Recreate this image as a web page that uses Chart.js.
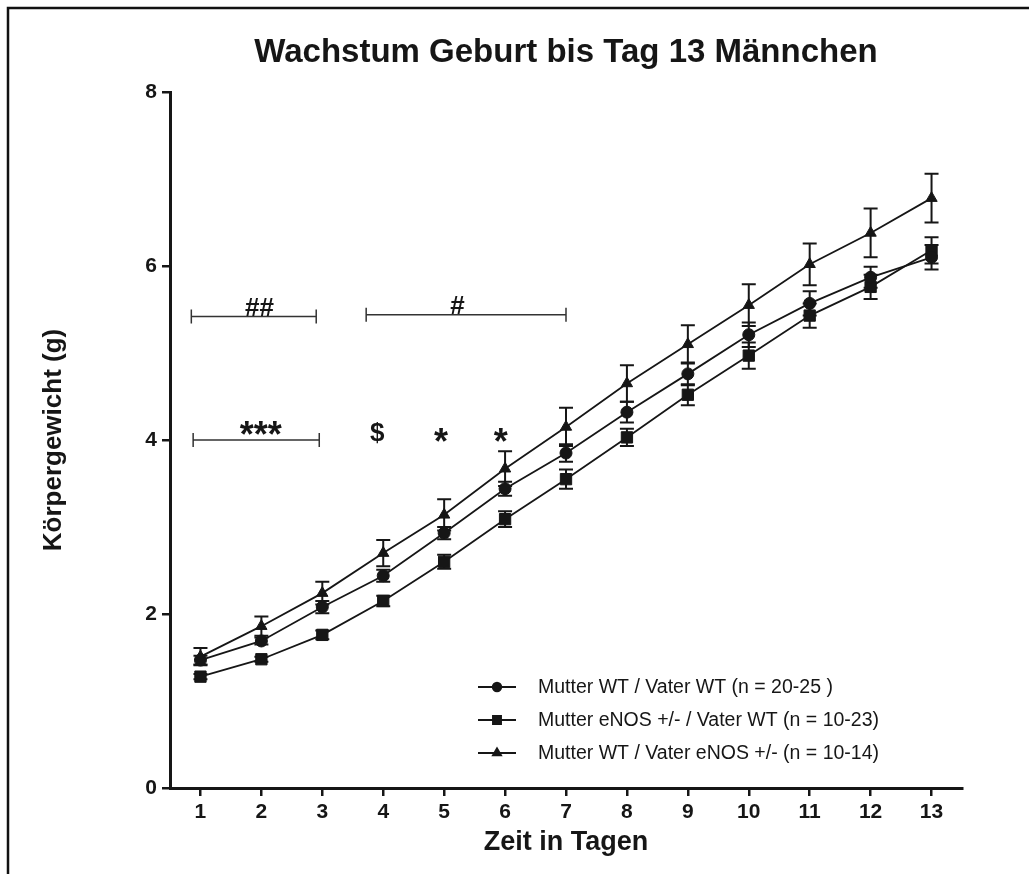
<!DOCTYPE html>
<html>
<head>
<meta charset="utf-8">
<script src="https://cdn.jsdelivr.net/npm/chart.js@4.4.1/dist/chart.umd.min.js"></script>
<style>
  html, body { margin: 0; padding: 0; background: #fff; }
  #wrap { width: 1029px; height: 874px; }
</style>
</head>
<body>
<div id="wrap"><canvas id="wachstum__grafico" width="1029" height="874"></canvas></div>
<script>
// Tage
var tage = [1, 2, 3, 4, 5, 6, 7, 8, 9, 10, 11, 12, 13];
var yTicks = [0, 2, 4, 6, 8];

// Mittelwerte + SEM (g)
var wtWt = [1.47, 1.69, 2.08, 2.44, 2.93, 3.44, 3.85, 4.32, 4.76, 5.21, 5.57, 5.87, 6.10];
var wtWtSem = [0.05, 0.04, 0.07, 0.07, 0.07, 0.08, 0.10, 0.12, 0.13, 0.14, 0.14, 0.12, 0.14];
var enosMutter = [1.28, 1.48, 1.76, 2.15, 2.60, 3.09, 3.55, 4.03, 4.52, 4.97, 5.43, 5.76, 6.18];
var enosMutterSem = [0.03, 0.03, 0.05, 0.06, 0.08, 0.09, 0.11, 0.10, 0.12, 0.15, 0.14, 0.14, 0.15];
var enosVater = [1.51, 1.86, 2.24, 2.70, 3.14, 3.67, 4.15, 4.65, 5.10, 5.55, 6.02, 6.38, 6.78];
var enosVaterSem = [0.10, 0.11, 0.13, 0.15, 0.18, 0.20, 0.22, 0.21, 0.22, 0.24, 0.24, 0.28, 0.28];

var serienNamen = [
    'Mutter WT / Vater WT (n = 20-25 )',
    'Mutter eNOS +/- / Vater WT (n = 10-23)',
    'Mutter WT / Vater eNOS +/- (n = 10-14)'
];
var titel = 'Wachstum Geburt bis Tag 13 Männchen';

// Signifikanz-Klammern und Zeichen (Datenkoordinaten)
var klammerVon = [0.85, 3.72, 0.88];
var klammerBis = [2.90, 7.00, 2.95];
var klammerY = [5.42, 5.44, 4.00];
var zeichenText = ['##', '#', '***', '$', '*', '*'];
var zeichenX = [1.97, 5.22, 1.99, 3.90, 4.95, 5.93];
var zeichenY = [5.51, 5.53, 4.12, 4.07, 4.04, 4.04];

const schwarz = '#161616';
const schrift = '"Liberation Sans", Arial, sans-serif';

const toXY = (werte) => werte.map((v, i) => ({ x: tage[i], y: v }));

// Rahmen oben / links + Titel
const rahmenPlugin = {
    id: 'rahmen',
    beforeDraw(chart) {
        const ctx = chart.ctx;
        ctx.save();
        ctx.fillStyle = '#fff';
        ctx.fillRect(0, 0, chart.width, chart.height);
        ctx.strokeStyle = '#111';
        ctx.lineWidth = 2.5;
        ctx.beginPath();
        ctx.moveTo(chart.width, 8);
        ctx.lineTo(8, 8);
        ctx.lineTo(8, chart.height);
        ctx.stroke();
        const area = chart.chartArea;
        ctx.fillStyle = schwarz;
        ctx.font = 'bold 33px ' + schrift;
        ctx.textAlign = 'center';
        ctx.textBaseline = 'alphabetic';
        ctx.fillText(titel, (area.left + area.right) / 2, area.top - 30);
        ctx.restore();
    }
};

// Fehlerbalken (SEM)
const fehlerPlugin = {
    id: 'fehler',
    beforeDatasetsDraw(chart) {
        const ctx = chart.ctx;
        const y = chart.scales.y;
        ctx.save();
        ctx.strokeStyle = schwarz;
        ctx.lineWidth = 2;
        chart.data.datasets.forEach((ds, di) => {
            const meta = chart.getDatasetMeta(di);
            meta.data.forEach((pt, i) => {
                const e = ds.sem[i];
                const v = ds.data[i].y;
                const yo = y.getPixelForValue(v + e);
                const yu = y.getPixelForValue(v - e);
                ctx.beginPath();
                ctx.moveTo(pt.x, yo); ctx.lineTo(pt.x, yu);
                ctx.moveTo(pt.x - 7, yo); ctx.lineTo(pt.x + 7, yo);
                ctx.moveTo(pt.x - 7, yu); ctx.lineTo(pt.x + 7, yu);
                ctx.stroke();
            });
        });
        ctx.restore();
    }
};

// Klammern, Zeichen, Legende
const extrasPlugin = {
    id: 'extras',
    afterDraw(chart) {
        const ctx = chart.ctx;
        const xs = chart.scales.x, ys = chart.scales.y;
        const area = chart.chartArea;
        ctx.save();
        ctx.strokeStyle = '#333';
        ctx.lineWidth = 1.5;
        klammerY.forEach((kv, i) => {
            const x0 = xs.getPixelForValue(klammerVon[i]);
            const x1 = xs.getPixelForValue(klammerBis[i]);
            const yy = ys.getPixelForValue(kv);
            ctx.beginPath();
            ctx.moveTo(x0, yy); ctx.lineTo(x1, yy);
            ctx.moveTo(x0, yy - 7); ctx.lineTo(x0, yy + 7);
            ctx.moveTo(x1, yy - 7); ctx.lineTo(x1, yy + 7);
            ctx.stroke();
        });

        ctx.fillStyle = schwarz;
        ctx.textAlign = 'center';
        ctx.textBaseline = 'middle';
        zeichenText.forEach((t, i) => {
            const stern = t.indexOf('*') >= 0;
            const groesse = stern ? 36 : (t === '$' ? 26 : 26);
            ctx.font = 'bold ' + groesse + 'px ' + schrift;
            ctx.fillText(t, xs.getPixelForValue(zeichenX[i]), ys.getPixelForValue(zeichenY[i]) + (stern ? 8 : 0));
        });

        // Legende
        ctx.font = '19.5px ' + schrift;
        ctx.textAlign = 'left';
        const lx = area.left + 308;
        chart.data.datasets.forEach((ds, i) => {
            const ly = area.bottom - 101 + i * 33;
            ctx.strokeStyle = schwarz;
            ctx.lineWidth = 2;
            ctx.beginPath();
            ctx.moveTo(lx, ly); ctx.lineTo(lx + 38, ly);
            ctx.stroke();
            ctx.fillStyle = schwarz;
            Chart.helpers.drawPoint(ctx, {
                pointStyle: ds.pointStyle, radius: ds.pointRadius * 0.7, borderWidth: 1
            }, lx + 19, ly);
            ctx.fillStyle = schwarz;
            ctx.fillText(ds.label, lx + 60, ly + 1);
        });
        ctx.restore();
    }
};

const serie = (label, werte, sem, stil, radius) => ({
    label: label,
    data: toXY(werte),
    sem: sem,
    borderColor: schwarz,
    backgroundColor: schwarz,
    borderWidth: 1.8,
    pointStyle: stil,
    pointRadius: radius,
    pointBackgroundColor: schwarz,
    pointBorderColor: schwarz,
    pointBorderWidth: 1,
    tension: 0
});

var ctxWachstum = document.getElementById('wachstum__grafico').getContext('2d');
var wachstumChart = new Chart(ctxWachstum, {
    type: 'line',
    data: {
        datasets: [
            serie(serienNamen[0], wtWt, wtWtSem, 'circle', 6),
            serie(serienNamen[1], enosMutter, enosMutterSem, 'rect', 8),
            serie(serienNamen[2], enosVater, enosVaterSem, 'triangle', 6.5)
        ]
    },
    options: {
        responsive: false,
        animation: false,
        layout: { padding: { left: 0, right: 67, top: 92, bottom: 0 } },
        plugins: {
            legend: { display: false },
            tooltip: { enabled: false },
            title: { display: false }
        },
        scales: {
            x: {
                type: 'linear',
                min: 0.5,
                max: 13.5,
                afterBuildTicks: (scale) => { scale.ticks = tage.map(v => ({ value: v })); },
                afterFit: (scale) => { scale.height = 86; },
                border: { display: true, color: schwarz, width: 3 },
                grid: { drawOnChartArea: false, drawTicks: true, tickLength: 8, color: schwarz, lineWidth: 2.5 },
                ticks: { color: schwarz, padding: 4, font: { family: schrift, size: 21, weight: 'bold' } },
                title: {
                    display: true,
                    text: 'Zeit in Tagen',
                    color: schwarz,
                    font: { family: schrift, size: 27, weight: 'bold', lineHeight: 1.2 },
                    padding: { top: 0, bottom: 15 }
                }
            },
            y: {
                min: 0,
                max: 8,
                afterBuildTicks: (scale) => { scale.ticks = yTicks.map(v => ({ value: v })); },
                afterFit: (scale) => { scale.width = 170; },
                border: { display: true, color: schwarz, width: 3 },
                grid: { drawOnChartArea: false, drawTicks: true, tickLength: 8, color: schwarz, lineWidth: 2.5 },
                ticks: { color: schwarz, padding: 5, font: { family: schrift, size: 21, weight: 'bold' } },
                title: {
                    display: true,
                    text: 'Körpergewicht (g)',
                    color: schwarz,
                    font: { family: schrift, size: 26, weight: 'bold', lineHeight: 1.2 },
                    padding: { top: 38, bottom: 0 }
                }
            }
        }
    },
    plugins: [rahmenPlugin, fehlerPlugin, extrasPlugin]
});
</script>
</body>
</html>
